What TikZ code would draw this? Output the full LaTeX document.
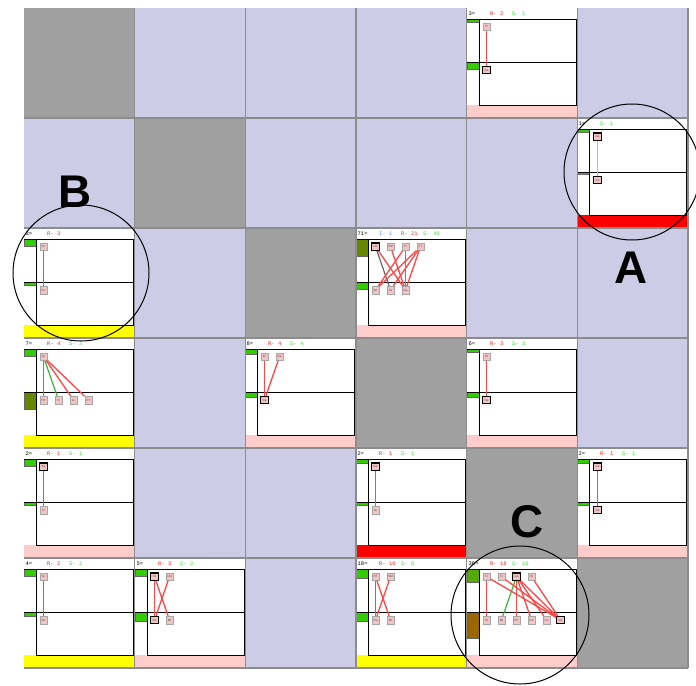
\documentclass[tikz,border=0pt]{standalone}
\usepackage{fontspec}
\setmainfont{Liberation Sans}
\setmonofont{Liberation Mono}

\definecolor{lav}{RGB}{204,204,230}
\definecolor{diag}{RGB}{160,160,160}
\definecolor{gridgray}{RGB}{140,140,140}
\definecolor{leafpink}{RGB}{242,196,196}
\definecolor{barpink}{RGB}{255,204,204}
\definecolor{baryellow}{RGB}{255,255,0}
\definecolor{barred}{RGB}{255,0,0}
\definecolor{mgreen}{RGB}{51,204,0}
\definecolor{mdkgreen}{RGB}{85,170,0}
\definecolor{molive}{RGB}{102,136,0}
\definecolor{mbrown}{RGB}{153,102,0}
\definecolor{rtext}{RGB}{255,30,30}
\definecolor{stext}{RGB}{60,220,60}
\definecolor{itext}{RGB}{90,150,255}
\definecolor{rline}{RGB}{255,70,70}
\definecolor{gline}{RGB}{60,180,60}

% white panel of one cell: bar colour, top marker colour/height, lower marker colour/height
\newcommand{\panelbase}[5]{%
  \fill[white] (0,0) rectangle (110.67,110);
  \fill[#1] (0,97) rectangle (110.67,110);
  \filldraw[#2,draw=black!60,line width=0.3bp] (0,11.3) rectangle (12,11.3+#3);
  \filldraw[#4,draw=black!60,line width=0.3bp] (0,54.3) rectangle (12,54.3+#5);
  \draw[line width=0.9bp] (0,11.5) -- (110,11.5);
  \draw[line width=0.9bp] (0,54.5) -- (110,54.5);
  \draw[line width=0.9bp] (12.5,11.5) -- (12.5,97) -- (110,97);
  \draw[line width=0.9bp] (109.5,11.5) -- (109.5,97);
}

\begin{document}
\begin{tikzpicture}[x=1bp,y=-1bp,
    hdr/.style={anchor=west,inner sep=0pt,font=\ttfamily\fontsize{5.5}{5.5}\selectfont},
    leaf/.style={draw=black!35,fill=leafpink,line width=0.5bp,minimum size=7.5bp,
      inner sep=0pt,font=\fontsize{3}{3}\selectfont,text=black!70},
    pick/.style={leaf,draw=black,line width=1.1bp},
    rlink/.style={rline,line width=1.3bp},
    glink/.style={gline,line width=1.2bp},
    dlink/.style={black!60,line width=1.2bp},
    letter/.style={font=\bfseries\fontsize{46}{46}\selectfont,inner sep=0pt}]
    \useasboundingbox (0,0) rectangle (696,686);
    % matrix background
    \foreach \r in {0,...,5}
      \foreach \c in {0,...,5}
        \fill[lav] (24+110.67*\c,8+110*\r) rectangle ++(110.67,110);
    \foreach \i in {0,...,5}
      \fill[diag] (24+110.67*\i,8+110*\i) rectangle ++(110.67,110);

    % 3 = (row 0, col 4)
    \begin{scope}[shift={(467,8)}]
        \panelbase{barpink}{mgreen}{2.7}{mgreen}{6.7}
        \node[hdr] (h04n) at (1.5,5.7) {3=};
        \node[hdr,rtext] (h04r) at (23,5.7) {R- 2};
        \node[hdr,stext] (h04s) at (45,5.7) {S- 1};
        \node[leaf] (q04u1) at (19.5,18.7) {Fr};
        \node[pick] (q04l1) at (19.5,62) {Ge};
        \draw[rlink] (q04u1) -- (q04l1);
    \end{scope}

    % 1 = (row 1, col 5)
    \begin{scope}[shift={(577,118)}]
        \panelbase{barred}{mgreen}{3.3}{mgreen}{2}
        \node[hdr] (h15n) at (1.5,5.7) {1=};
        \node[hdr,stext] (h15s) at (23,5.7) {S- 1};
        \node[pick] (q15u1) at (20.5,18.7) {Ge};
        \node[pick,line width=0.8bp] (q15l1) at (20.5,62) {Ge};
        \draw[gline!55,line width=1.8bp] (q15u1) -- (q15l1);
    \end{scope}

    % 3 = (row 2, col 0)
    \begin{scope}[shift={(24,228)}]
        \panelbase{baryellow}{mgreen}{6.7}{mgreen}{2.7}
        \node[hdr] (h20n) at (1.5,5.7) {3=};
        \node[hdr,rtext] (h20r) at (23,5.7) {R- 3};
        \node[leaf] (q20u1) at (19.5,18.7) {Se};
        \node[leaf] (q20l1) at (19.5,62) {Pn};
        \draw[rlink] (q20u1) -- (q20l1);
    \end{scope}

    % 71 = (row 2, col 3)
    \begin{scope}[shift={(356,228)}]
        \panelbase{barpink}{molive}{17}{mgreen}{7}
        \node[hdr] (h23n) at (1.5,5.7) {71=};
        \node[hdr,itext] (h23i) at (23,5.7) {I- 1};
        \node[hdr,rtext] (h23r) at (45,5.7) {R- 21};
        \node[hdr,stext] (h23s) at (67,5.7) {S- 49};
        \node[pick] (q23u1) at (19.5,18.7) {Ge};
        \node[leaf] (q23u2) at (34.5,18.7) {SM};
        \node[leaf] (q23u3) at (49.5,18.7) {Fr};
        \node[leaf] (q23u4) at (64.5,18.7) {FT};
        \node[leaf] (q23l1) at (19.5,62) {So};
        \node[leaf] (q23l2) at (34.5,62) {Se};
        \node[leaf] (q23l3) at (49.5,62) {Ne};
        \draw[dlink] (q23u1) -- (q23l2);
        \draw[rlink] (q23u1) -- (q23l3);
        \draw[rlink] (q23u2) -- (q23l3);
        \draw[rlink] (q23u3) -- (q23l1);
        \draw[rlink] (q23u3) -- (q23l3);
        \draw[rlink] (q23u4) -- (q23l1);
        \draw[rlink] (q23u4) -- (q23l2);
        \draw[rlink] (q23u4) -- (q23l3);
    \end{scope}

    % 7 = (row 3, col 0)
    \begin{scope}[shift={(24,338)}]
        \panelbase{baryellow}{mgreen}{6.7}{molive}{17}
        \node[hdr] (h30n) at (1.5,5.7) {7=};
        \node[hdr,rtext] (h30r) at (23,5.7) {R- 4};
        \node[hdr,stext] (h30s) at (45,5.7) {S- 3};
        \node[leaf] (q30u1) at (19.5,18.7) {Se};
        \node[leaf] (q30l1) at (19.5,62) {HT};
        \node[leaf] (q30l2) at (34.5,62) {Fr};
        \node[leaf] (q30l3) at (49.5,62) {Lu};
        \node[leaf] (q30l4) at (64.5,62) {FT};
        \draw[rlink] (q30u1) -- (q30l1);
        \draw[glink] (q30u1) -- (q30l2);
        \draw[rlink] (q30u1) -- (q30l3);
        \draw[rlink] (q30u1) -- (q30l4);
    \end{scope}

    % 8 = (row 3, col 2)
    \begin{scope}[shift={(245,338)}]
        \panelbase{barpink}{mgreen}{4.7}{mgreen}{4.7}
        \node[hdr] (h32n) at (1.5,5.7) {8=};
        \node[hdr,rtext] (h32r) at (23,5.7) {R- 4};
        \node[hdr,stext] (h32s) at (45,5.7) {S- 4};
        \node[leaf] (q32u1) at (19.5,18.7) {Im};
        \node[leaf] (q32u2) at (34.5,18.7) {Ra};
        \node[pick] (q32l1) at (19.5,62) {Ge};
        \draw[rlink] (q32u1) -- (q32l1);
        \draw[rlink] (q32u2) -- (q32l1);
    \end{scope}

    % 6 = (row 3, col 4)
    \begin{scope}[shift={(467,338)}]
        \panelbase{barpink}{mgreen}{3.3}{mgreen}{4.7}
        \node[hdr] (h34n) at (1.5,5.7) {6=};
        \node[hdr,rtext] (h34r) at (23,5.7) {R- 3};
        \node[hdr,stext] (h34s) at (45,5.7) {S- 3};
        \node[leaf] (q34u1) at (19.5,18.7) {HI};
        \node[pick] (q34l1) at (19.5,62) {Ge};
        \draw[rlink] (q34u1) -- (q34l1);
    \end{scope}

    % 2 = (row 4, col 0)
    \begin{scope}[shift={(24,448)}]
        \panelbase{barpink}{mgreen}{7}{mgreen}{3.3}
        \node[hdr] (h40n) at (1.5,5.7) {2=};
        \node[hdr,rtext] (h40r) at (23,5.7) {R- 1};
        \node[hdr,stext] (h40s) at (45,5.7) {S- 1};
        \node[pick] (q40u1) at (19.5,18.7) {Ge};
        \node[leaf] (q40l1) at (19.5,62) {Fr};
        \draw[rlink] (q40u1) -- (q40l1);
    \end{scope}

    % 2 = (row 4, col 3)
    \begin{scope}[shift={(356,448)}]
        \panelbase{barred}{mgreen}{4}{mgreen}{3.3}
        \node[hdr] (h43n) at (1.5,5.7) {2=};
        \node[hdr,rtext] (h43r) at (23,5.7) {R- 1};
        \node[hdr,stext] (h43s) at (45,5.7) {S- 1};
        \node[pick] (q43u1) at (19.5,18.7) {Ge};
        \node[leaf] (q43l1) at (19.5,62) {Gr};
        \draw[rlink] (q43u1) -- (q43l1);
    \end{scope}

    % 2 = (row 4, col 5)
    \begin{scope}[shift={(577,448)}]
        \panelbase{barpink}{mgreen}{4}{mgreen}{3.3}
        \node[hdr] (h45n) at (1.5,5.7) {2=};
        \node[hdr,rtext] (h45r) at (23,5.7) {R- 1};
        \node[hdr,stext] (h45s) at (45,5.7) {S- 1};
        \node[pick] (q45u1) at (20.5,18.7) {Ge};
        \node[pick] (q45l1) at (20.5,62) {Ge};
        \draw[rlink] (q45u1) -- (q45l1);
    \end{scope}

    % 4 = (row 5, col 0)
    \begin{scope}[shift={(24,558)}]
        \panelbase{baryellow}{mgreen}{7}{mgreen}{4}
        \node[hdr] (h50n) at (1.5,5.7) {4=};
        \node[hdr,rtext] (h50r) at (23,5.7) {R- 2};
        \node[hdr,stext] (h50s) at (45,5.7) {S- 2};
        \node[leaf] (q50u1) at (19.5,18.7) {Se};
        \node[leaf] (q50l1) at (19.5,62) {Ra};
        \draw[rlink] (q50u1) -- (q50l1);
    \end{scope}

    % 5 = (row 5, col 1)
    \begin{scope}[shift={(135,558)}]
        \panelbase{barpink}{mgreen}{7}{mgreen}{9}
        \node[hdr] (h51n) at (1.5,5.7) {5=};
        \node[hdr,rtext] (h51r) at (23,5.7) {R- 3};
        \node[hdr,stext] (h51s) at (45,5.7) {S- 2};
        \node[pick] (q51u1) at (19.5,18.7) {Si};
        \node[leaf] (q51u2) at (34.5,18.7) {LM};
        \node[pick] (q51l1) at (19.5,62) {Ge};
        \node[leaf] (q51l2) at (34.5,62) {MI};
        \draw[rlink] (q51u1) -- (q51l1);
        \draw[rlink] (q51u1) -- (q51l2);
        \draw[rlink] (q51u2) -- (q51l1);
    \end{scope}

    % 18 = (row 5, col 3)
    \begin{scope}[shift={(356,558)}]
        \panelbase{baryellow}{mgreen}{9.3}{mgreen}{9}
        \node[hdr] (h53n) at (1.5,5.7) {18=};
        \node[hdr,rtext] (h53r) at (23,5.7) {R- 10};
        \node[hdr,stext] (h53s) at (45,5.7) {S- 8};
        \node[leaf] (q53u1) at (19.5,18.7) {HT};
        \node[leaf] (q53u2) at (34.5,18.7) {SM};
        \node[leaf] (q53l1) at (19.5,62) {Ra};
        \node[leaf] (q53l2) at (34.5,62) {MI};
        \draw[rlink] (q53u1) -- (q53l1);
        \draw[rlink] (q53u1) -- (q53l2);
        \draw[rlink] (q53u2) -- (q53l1);
    \end{scope}

    % 36 = (row 5, col 4)
    \begin{scope}[shift={(467,558)}]
        \panelbase{barpink}{mdkgreen}{13.3}{mbrown}{26}
        \node[hdr] (h54n) at (1.5,5.7) {36=};
        \node[hdr,rtext] (h54r) at (23,5.7) {R- 18};
        \node[hdr,stext] (h54s) at (45,5.7) {S- 16};
        \node[leaf] (q54u1) at (19.5,18.7) {Fi};
        \node[leaf] (q54u2) at (34.5,18.7) {Fi};
        \node[pick] (q54u3) at (49.5,18.7) {Ge};
        \node[leaf] (q54u4) at (64.5,18.7) {HI};
        \node[leaf] (q54l1) at (19.5,62) {HI};
        \node[leaf] (q54l2) at (34.5,62) {MI};
        \node[leaf] (q54l3) at (49.5,62) {RP};
        \node[leaf] (q54l4) at (64.5,62) {Ra};
        \node[leaf] (q54l5) at (79.5,62) {Cu};
        \node[pick] (q54l6) at (93.5,62) {Ge};
        \draw[rlink] (q54u1) -- (q54l1);
        \draw[rlink] (q54u1) -- (q54l6);
        \draw[rlink] (q54u2) -- (q54l6);
        \draw[glink] (q54u3) -- (q54l2);
        \draw[rlink] (q54u3) -- (q54l3);
        \draw[rlink] (q54u3) -- (q54l4);
        \draw[rlink] (q54u3) -- (q54l5);
        \draw[rlink] (q54u3) -- (q54l6);
        \draw[rlink] (q54u4) -- (q54l6);
    \end{scope}

    % grid lines
    \foreach \i in {1,...,6} {
        \draw[gridgray,line width=1.2bp] (24+110.67*\i,8) -- ++(0,660);
        \draw[gridgray,line width=1.2bp] (24,8+110*\i) -- ++(664,0);
    }

    % marked regions
    \draw[line width=1bp] (632,172) circle [radius=68bp];
    \draw[line width=1bp] (81,273) circle [radius=68bp];
    \draw[line width=1bp] (520,615) circle [radius=69bp];
    \node[letter] (labA) at (631,268) {A};
    \node[letter] (labB) at (75,192) {B};
    \node[letter] (labC) at (527,522) {C};
\end{tikzpicture}
\end{document}
